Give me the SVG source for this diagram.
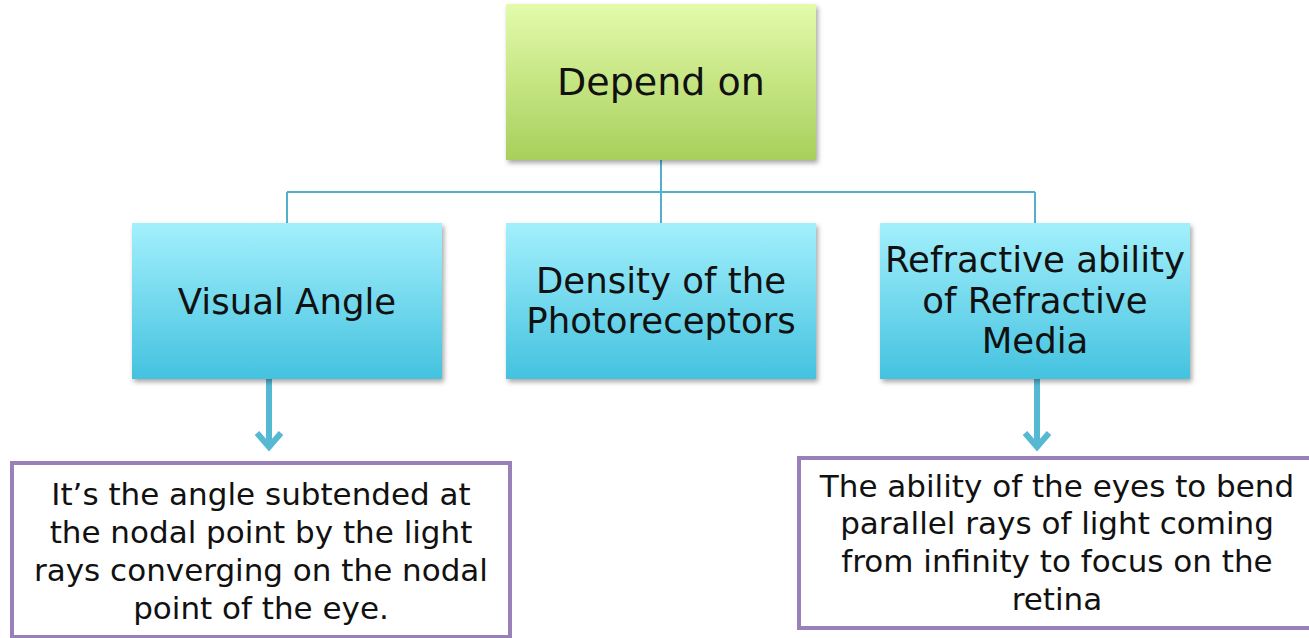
<svg xmlns="http://www.w3.org/2000/svg" width="1309" height="638" viewBox="0 0 1309 638">
<defs>
<linearGradient id="gGreen" x1="0" y1="0" x2="0" y2="1">
<stop offset="0" stop-color="#e3fbab"/>
<stop offset="1" stop-color="#a8cf5b"/>
</linearGradient>
<linearGradient id="gBlue" x1="0" y1="0" x2="0" y2="1">
<stop offset="0" stop-color="#a3f0fc"/>
<stop offset="1" stop-color="#44c2df"/>
</linearGradient>
<filter id="shadow" x="-10%" y="-10%" width="120%" height="130%">
<feDropShadow dx="2" dy="3" stdDeviation="2.5" flood-color="#000" flood-opacity="0.35"/>
</filter>
</defs>
<style>
.box{filter:url(#shadow)}
.t{font-family:"DejaVu Sans",sans-serif;fill:#111;text-anchor:middle}
.big{font-size:38px}
.mid{font-size:35.5px}
.small{font-size:31px}
.conn{stroke:#52b1c9;stroke-width:2;fill:none}
.arrow{stroke:#55b9d4;stroke-width:6;fill:none;stroke-linejoin:miter}
.note{fill:#fff;stroke:#9a80b8;stroke-width:4}
</style>
<rect width="1309" height="638" fill="#fff"/>
<g id="connectors">
<path class="conn" d="M661 160V192M287 192H1035M287 192V223M661 192V223M1035 192V223"/>
<path class="arrow" d="M269 379V446M257 433L269 447L281 433"/>
<path class="arrow" d="M1037 379V446M1025 433L1037 447L1049 433"/>
</g>
<g id="depend-on">
<rect class="box" x="506" y="4" width="310" height="156" fill="url(#gGreen)"/>
<text class="t big" x="661" y="95">Depend on</text>
</g>
<g id="visual-angle">
<rect class="box" x="132" y="223" width="310" height="156" fill="url(#gBlue)"/>
<text class="t mid" x="287" y="314">Visual Angle</text>
</g>
<g id="density">
<rect class="box" x="506" y="223" width="310" height="156" fill="url(#gBlue)"/>
<text class="t mid" x="661" y="293">Density of the</text>
<text class="t mid" x="661" y="333">Photoreceptors</text>
</g>
<g id="refractive">
<rect class="box" x="880" y="223" width="310" height="156" fill="url(#gBlue)"/>
<text class="t mid" x="1035" y="272">Refractive ability</text>
<text class="t mid" x="1035" y="313">of Refractive</text>
<text class="t mid" x="1035" y="353">Media</text>
</g>
<g id="visual-angle-note">
<rect class="note" x="12" y="463" width="498" height="174"/>
<text class="t small" x="261" y="505">It’s the angle subtended at</text>
<text class="t small" x="261" y="543">the nodal point by the light</text>
<text class="t small" x="261" y="581">rays converging on the nodal</text>
<text class="t small" x="261" y="619">point of the eye.</text>
</g>
<g id="refractive-note">
<rect class="note" x="799" y="458" width="530" height="170"/>
<text class="t small" x="1057" y="497">The ability of the eyes to bend</text>
<text class="t small" x="1057" y="534">parallel rays of light coming</text>
<text class="t small" x="1057" y="572">from infinity to focus on the</text>
<text class="t small" x="1057" y="610">retina</text>
</g>
</svg>
